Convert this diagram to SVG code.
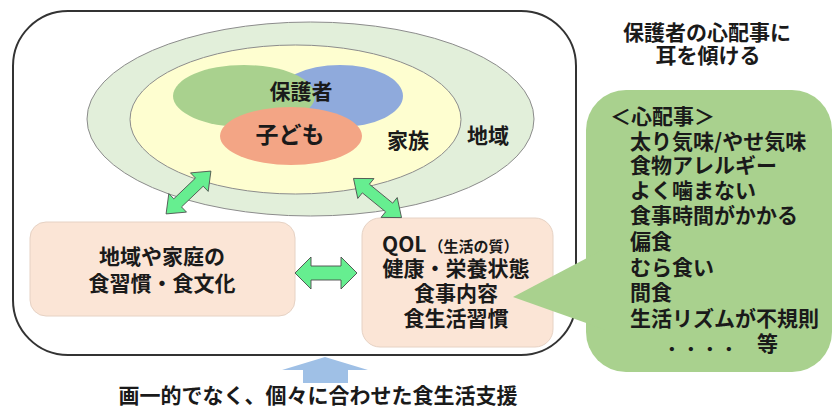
<svg xmlns="http://www.w3.org/2000/svg" xmlns:xlink="http://www.w3.org/1999/xlink" width="834" height="410" viewBox="0 0 834 410">
<style>
text{font-family:"Noto Sans CJK JP","Noto Sans CJK SC",sans-serif;font-weight:bold;fill:#1a1a1a;}
.c{text-anchor:middle;}
.t21{font-size:21px;}
.box{fill:#fbe5d6;stroke:#e6d2c4;stroke-width:1;}
.arr{fill:#66ee90;stroke:#4a4a4a;stroke-width:0.9;}
</style>
<defs>
<polygon id="dbl" points="-31,0 -15,-16 -15,-7 15,-7 15,-16 31,0 15,16 15,7 -15,7 -15,16"/>
</defs>
<rect width="834" height="410" fill="#ffffff"/>
<g id="frame">
<rect x="13" y="11" width="563" height="344" rx="55" ry="55" fill="none" stroke="#333" stroke-width="2"/>
</g>
<g id="community">
<ellipse cx="310.5" cy="119" rx="223.5" ry="97" fill="#e2efda" stroke="#8c8c8c" stroke-width="1"/>
<text class="c t21" x="488" y="143">地域</text>
</g>
<g id="family">
<ellipse cx="295.5" cy="119.5" rx="165.5" ry="74.5" fill="#fefed0" stroke="#8c8c8c" stroke-width="1"/>
<text class="c t21" x="408" y="148">家族</text>
</g>
<g id="guardian">
<ellipse cx="340" cy="96" rx="63" ry="31" fill="#8faadc"/>
<ellipse cx="244" cy="96" rx="71" ry="31" fill="#a9d18e"/>
<text class="c t21" x="301" y="99">保護者</text>
</g>
<g id="child">
<ellipse cx="291" cy="136" rx="71" ry="29" fill="#f3a585"/>
<text class="c" x="290" y="143" style="font-size:23px">子ども</text>
</g>
<g id="culture">
<rect class="box" x="30" y="222" width="265" height="94" rx="16"/>
<text class="c t21" x="162" y="264">地域や家庭の</text>
<text class="c t21" x="162" y="291">食習慣・食文化</text>
</g>
<g id="qol">
<rect class="box" x="362" y="218" width="191" height="129" rx="18"/>
<text x="382" y="252"><tspan style="font-size:21px">QOL</tspan><tspan style="font-size:15px" dx="2">（生活の質）</tspan></text>
<text class="c t21" x="456" y="276">健康・栄養状態</text>
<text class="c t21" x="456" y="301">食事内容</text>
<text class="c t21" x="456" y="326">食生活習慣</text>
</g>
<g id="connectors">
<use xlink:href="#dbl" class="arr" transform="translate(188.5,192.5) rotate(-43.7) scale(1,0.8)" vector-effect="non-scaling-stroke"/>
<use xlink:href="#dbl" class="arr" transform="translate(377.5,198) rotate(39.2) scale(1,0.8)" vector-effect="non-scaling-stroke"/>
<use xlink:href="#dbl" class="arr" transform="translate(326,273)"/>
<polygon points="325,357 368,370 348,370 348,383 303,383 303,370 282,370" fill="#9fc0e6"/>
</g>
<g id="title">
<text class="c t21" x="707" y="40">保護者の心配事に</text>
<text class="c t21" x="708" y="63">耳を傾ける</text>
</g>
<g id="concerns">
<rect x="586" y="90" width="246" height="282" rx="40" fill="#a9d18e"/>
<polygon points="513,297 606,248 606,330" fill="#a9d18e"/>
<text class="t21" x="610" y="124">＜心配事＞</text>
<text class="t21" x="630" y="149">太り気味/やせ気味</text>
<text class="t21" x="630" y="173">食物アレルギー</text>
<text class="t21" x="630" y="198">よく噛まない</text>
<text class="t21" x="630" y="223">食事時間がかかる</text>
<text class="t21" x="630" y="249">偏食</text>
<text class="t21" x="630" y="275">むら食い</text>
<text class="t21" x="630" y="300">間食</text>
<text class="t21" x="630" y="326">生活リズムが不規則</text>
<text class="t21" x="666 685 704 723 757" y="351">．．．．等</text>
</g>
<g id="footer">
<text class="c" x="318" y="403" style="font-size:21px">画一的でなく、個々に合わせた食生活支援</text>
</g>
</svg>
